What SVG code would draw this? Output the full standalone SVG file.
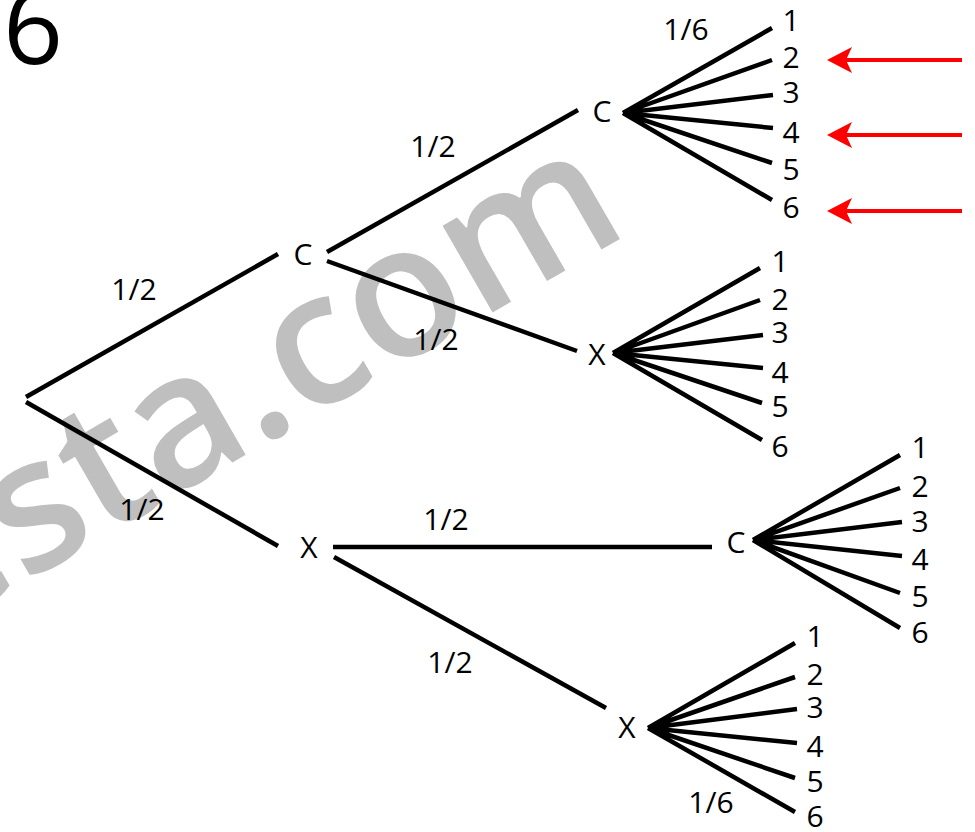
<svg xmlns="http://www.w3.org/2000/svg" width="975" height="832" viewBox="0 0 975 832">
<style>
.t{font-family:"Open Sans","Noto Sans","Liberation Sans",sans-serif;font-size:30px;fill:#000;text-anchor:middle}
.e{stroke:#000;stroke-width:4.5;fill:none}
.r{stroke:#ff0000;stroke-width:4;fill:none}
.wm{font-family:"Open Sans","Noto Sans","Liberation Sans",sans-serif;font-size:185px;font-weight:600;fill:#bfbfbf;text-anchor:middle}
</style>
<rect width="975" height="832" fill="#fff"/>
<text class="wm" x="282" y="434" transform="rotate(-30 282 434)">esta.com</text>
<text x="3" y="64" style="font-family:'Open Sans','Noto Sans',sans-serif;font-size:105px;fill:#000">6</text>
<g id="connectors">
<line class="e" x1="26" y1="397" x2="278" y2="254"/>
<line class="e" x1="26" y1="402" x2="278" y2="546"/>
<line class="e" x1="327" y1="252" x2="578" y2="110"/>
<line class="e" x1="327" y1="261" x2="577" y2="351"/>
<line class="e" x1="333" y1="547" x2="712" y2="547"/>
<line class="e" x1="334" y1="557" x2="606" y2="708"/>
<path class="e" d="M623,113 L772,28 M623,113 L772,60 M623,113 L773,95 M623,113 L773,128 M623,113 L772,163 M623,113 L772,200"/>
<path class="e" d="M613,353 L760,268 M613,353 L760,300 M613,353 L763,335 M613,353 L763,368 M613,353 L762,403 M613,353 L762,440"/>
<path class="e" d="M753,540 L900,455 M753,540 L900,488 M753,540 L902,522 M753,540 L902,556 M753,540 L900,593 M753,540 L900,628"/>
<path class="e" d="M648,728 L795,643 M648,728 L795,677 M648,728 L797,709 M648,728 L797,743 M648,728 L795,778 M648,728 L795,812"/>
<text class="t" x="134" y="300">1/2</text>
<text class="t" x="142" y="520">1/2</text>
<text class="t" x="433" y="157">1/2</text>
<text class="t" x="436" y="350">1/2</text>
<text class="t" x="446" y="530">1/2</text>
<text class="t" x="450" y="673">1/2</text>
<text class="t" x="686" y="40">1/6</text>
<text class="t" x="711" y="813">1/6</text>
</g>
<g id="arrows">
<line class="r" x1="962" y1="60" x2="845" y2="60"/>
<path d="M827,60 L852,47 L846,60 L852,73 Z" fill="#ff0000"/>
<line class="r" x1="962" y1="135" x2="845" y2="135"/>
<path d="M827,135 L852,122 L846,135 L852,148 Z" fill="#ff0000"/>
<line class="r" x1="962" y1="211" x2="845" y2="211"/>
<path d="M827,211 L852,198 L846,211 L852,224 Z" fill="#ff0000"/>
</g>
<g id="node-c1"><text class="t" x="303" y="265">C</text></g>
<g id="node-x1"><text class="t" x="309" y="558">X</text></g>
<g id="node-cc"><text class="t" x="602" y="122">C</text></g>
<g id="node-cx"><text class="t" x="597" y="365">X</text></g>
<g id="node-xc"><text class="t" x="736" y="553">C</text></g>
<g id="node-xx"><text class="t" x="627" y="738">X</text></g>
<g id="leaves-cc">
<text class="t" x="791" y="31">1</text><text class="t" x="791" y="68">2</text><text class="t" x="791" y="103">3</text><text class="t" x="791" y="143">4</text><text class="t" x="791" y="180">5</text><text class="t" x="791" y="218">6</text>
</g>
<g id="leaves-cx">
<text class="t" x="780" y="272">1</text><text class="t" x="780" y="310">2</text><text class="t" x="780" y="343">3</text><text class="t" x="780" y="383">4</text><text class="t" x="780" y="417">5</text><text class="t" x="780" y="457">6</text>
</g>
<g id="leaves-xc">
<text class="t" x="920" y="458">1</text><text class="t" x="920" y="497">2</text><text class="t" x="920" y="532">3</text><text class="t" x="920" y="570">4</text><text class="t" x="920" y="607">5</text><text class="t" x="920" y="643">6</text>
</g>
<g id="leaves-xx">
<text class="t" x="815" y="647">1</text><text class="t" x="815" y="685">2</text><text class="t" x="815" y="718">3</text><text class="t" x="815" y="757">4</text><text class="t" x="815" y="792">5</text><text class="t" x="815" y="827">6</text>
</g>
</svg>
